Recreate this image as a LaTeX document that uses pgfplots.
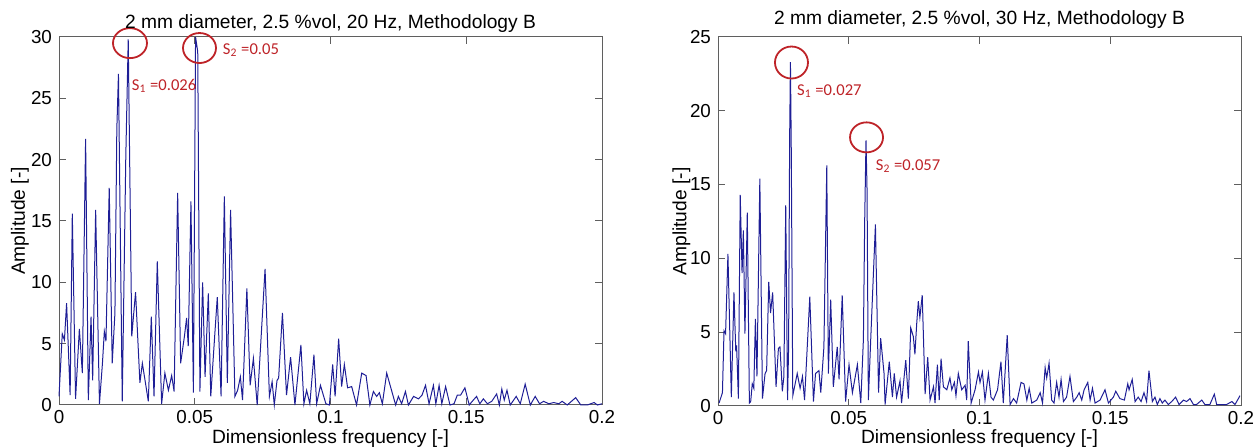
\documentclass[border=0pt]{standalone}
\usepackage{fontspec}
\setmainfont{Liberation Sans}
\newfontfamily\annfont{Carlito}
\usepackage{pgfplots}
\usepackage{pgfplotstable}
\pgfplotsset{compat=1.18}
\usetikzlibrary{shapes.geometric}
\definecolor{specblue}{RGB}{30,30,150}
\definecolor{annred}{RGB}{190,35,40}
\definecolor{axgray}{RGB}{95,95,95}

\pgfplotstableread{
x y
0.0000 0.7
0.0012 5.8
0.0020 5.3
0.0028 8.3
0.0041 0.8
0.0049 15.6
0.0061 0.5
0.0075 6.2
0.0086 2.6
0.0098 21.7
0.0108 0.4
0.0118 7.2
0.0124 2.0
0.0135 15.9
0.0149 0.1
0.0160 3.4
0.0167 6.0
0.0173 5.2
0.0185 17.7
0.0196 3.4
0.0206 7.5
0.0213 22.5
0.0219 27.0
0.0233 0.3
0.0246 20.2
0.0255 29.8
0.0268 5.6
0.0282 9.2
0.0298 1.8
0.0307 3.4
0.0317 2.0
0.0329 0.3
0.0340 7.2
0.0350 0.7
0.0362 11.7
0.0378 0.1
0.0390 2.6
0.0403 1.2
0.0415 2.4
0.0424 1.1
0.0437 17.3
0.0448 3.4
0.0462 5.6
0.0470 7.1
0.0476 4.8
0.0486 16.6
0.0495 1.0
0.0503 30.0
0.0511 28.8
0.0519 1.1
0.0529 10.0
0.0538 2.3
0.0550 9.1
0.0559 0.7
0.0571 4.8
0.0583 8.8
0.0597 0.7
0.0609 17.0
0.0620 1.8
0.0632 15.9
0.0648 0.7
0.0658 1.2
0.0668 2.3
0.0676 0.4
0.0692 9.5
0.0704 1.6
0.0716 3.8
0.0730 0.0
0.0759 11.1
0.0775 0.7
0.0785 1.9
0.0793 0.0
0.0803 2.0
0.0809 2.2
0.0823 7.5
0.0838 0.8
0.0853 3.9
0.0869 0.0
0.0891 4.9
0.0902 0.1
0.0912 1.2
0.0924 0.1
0.0939 4.1
0.0949 0.1
0.0963 1.6
0.0983 0.1
0.0996 0.0
0.1008 3.3
0.1017 0.7
0.1030 5.4
0.1041 1.5
0.1051 3.3
0.1063 1.4
0.1078 1.5
0.1096 0.0
0.1115 2.6
0.1131 2.4
0.1145 0.0
0.1158 1.1
0.1170 0.7
0.1180 1.0
0.1191 0.1
0.1207 2.6
0.1240 0.0
0.1250 0.7
0.1262 0.1
0.1276 1.1
0.1287 0.0
0.1306 0.7
0.1324 0.5
0.1337 0.8
0.1350 1.6
0.1363 0.1
0.1379 1.6
0.1388 0.1
0.1400 1.6
0.1410 0.1
0.1424 1.5
0.1440 0.0
0.1455 0.1
0.1467 0.8
0.1479 0.8
0.1495 1.4
0.1511 0.0
0.1526 0.4
0.1538 0.7
0.1550 0.1
0.1563 0.5
0.1578 0.1
0.1594 0.3
0.1612 0.9
0.1622 0.0
0.1631 1.3
0.1640 0.4
0.1650 1.2
0.1662 0.0
0.1684 0.7
0.1699 0.1
0.1717 1.7
0.1736 0.0
0.1754 0.7
0.1770 0.1
0.1785 0.3
0.1804 0.1
0.1822 0.2
0.1841 0.1
0.1853 0.3
0.1872 0.0
0.1903 0.6
0.1922 0.0
0.1946 0.0
0.1971 0.2
0.1983 0.0
0.2000 0.1
}\leftdata

\pgfplotstableread{
x y
0.0004 0.2
0.0017 0.9
0.0023 5.1
0.0029 4.9
0.0038 10.3
0.0051 0.6
0.0061 7.7
0.0068 3.7
0.0071 4.1
0.0078 0.5
0.0085 14.3
0.0092 9.0
0.0097 11.9
0.0103 4.9
0.0112 13.1
0.0120 0.2
0.0125 0.3
0.0131 1.5
0.0137 1.2
0.0143 5.9
0.0149 2.0
0.0160 15.4
0.0170 0.5
0.0180 2.2
0.0186 2.4
0.0194 8.4
0.0201 6.3
0.0209 7.7
0.0222 1.3
0.0231 3.9
0.0237 4.0
0.0246 1.0
0.0252 2.0
0.0259 13.6
0.0266 0.4
0.0270 4.0
0.0274 18.2
0.0277 23.3
0.0280 17.8
0.0286 0.7
0.0303 2.2
0.0314 1.2
0.0323 2.0
0.0331 0.4
0.0351 7.4
0.0365 0.3
0.0373 2.2
0.0386 2.4
0.0393 0.9
0.0405 4.0
0.0416 16.3
0.0422 2.2
0.0431 7.2
0.0441 1.3
0.0456 4.0
0.0463 1.8
0.0475 7.5
0.0488 0.3
0.0501 2.8
0.0514 0.9
0.0533 2.8
0.0546 0.2
0.0556 4.5
0.0561 12.6
0.0566 18.0
0.0570 14.6
0.0575 0.4
0.0584 4.5
0.0602 12.3
0.0614 0.9
0.0622 4.6
0.0635 2.2
0.0639 0.1
0.0655 3.0
0.0667 0.6
0.0674 2.2
0.0683 0.6
0.0696 1.7
0.0702 0.2
0.0718 3.1
0.0728 0.5
0.0737 5.3
0.0747 4.7
0.0753 3.5
0.0760 5.6
0.0766 7.1
0.0772 6.0
0.0781 7.5
0.0792 0.8
0.0802 3.3
0.0811 0.4
0.0824 1.3
0.0830 0.2
0.0839 2.8
0.0846 0.4
0.0853 3.2
0.0862 1.3
0.0875 1.1
0.0887 1.9
0.0894 1.1
0.0904 1.6
0.0910 0.7
0.0919 2.2
0.0932 1.1
0.0945 1.4
0.0951 0.4
0.0957 4.4
0.0968 0.2
0.0983 1.1
0.0996 2.3
0.1002 1.6
0.1011 2.3
0.1021 0.4
0.1034 2.2
0.1044 0.6
0.1053 0.4
0.1069 1.1
0.1082 3.0
0.1091 0.2
0.1106 4.8
0.1117 0.1
0.1130 0.5
0.1142 0.2
0.1159 1.6
0.1170 1.5
0.1181 0.4
0.1190 1.2
0.1200 0.2
0.1219 0.4
0.1232 0.9
0.1241 0.2
0.1251 2.6
0.1257 1.9
0.1266 2.9
0.1276 0.4
0.1285 0.2
0.1295 1.6
0.1304 0.6
0.1312 1.8
0.1321 0.3
0.1333 0.6
0.1346 2.0
0.1359 0.3
0.1372 0.6
0.1381 0.9
0.1391 0.4
0.1400 1.1
0.1414 1.6
0.1423 0.4
0.1432 1.2
0.1442 0.2
0.1461 0.4
0.1480 1.1
0.1493 0.2
0.1512 0.6
0.1521 1.0
0.1537 0.5
0.1554 0.4
0.1567 1.5
0.1572 1.1
0.1584 1.8
0.1595 0.3
0.1607 0.6
0.1618 0.3
0.1629 0.9
0.1639 0.3
0.1648 2.4
0.1661 0.3
0.1671 0.6
0.1680 0.1
0.1690 0.5
0.1699 0.2
0.1709 0.4
0.1722 0.1
0.1735 0.3
0.1750 0.6
0.1763 0.1
0.1780 0.4
0.1792 0.3
0.1805 0.5
0.1818 0.1
0.1830 0.1
0.1850 0.4
0.1862 0.1
0.1881 0.1
0.1898 0.8
0.1907 0.1
0.1926 0.1
0.1945 0.1
0.1965 0.3
0.1977 0.1
0.1990 0.5
0.1996 0.7
}\rightdata

\pgfplotsset{
  specax/.style={
    scale only axis,
    xmin=0, xmax=0.2, ymin=0,
    xtick={0,0.05,0.1,0.15,0.2},
    xticklabels={0,0.05,0.1,0.15,0.2},
    tick align=inside,
    major tick length=3.5pt,
    minor tick num=0,
    axis line style={axgray, line width=0.5pt},
    every tick/.style={axgray, line width=0.5pt},
    tick label style={font=\fontsize{9.4}{10}\selectfont, text=black},
    xticklabel style={inner sep=1pt, yshift=-1.5pt},
    label style={font=\fontsize{9.6}{11}\selectfont},
    every axis title/.style={font=\fontsize{9.6}{11}\selectfont, at={(axis description cs:0.5,1)}, anchor=base},
    clip=false,
    xlabel={Dimensionless frequency [-]},
    ylabel={Amplitude [-]},
  },
}
\tikzset{
  circ/.style={draw=annred, line width=0.9pt, ellipse, inner sep=0pt},
  ann/.style={font=\annfont\fontsize{8.3}{10}\selectfont, text=annred, inner sep=0pt},
}

\begin{document}
\begin{tikzpicture}
\useasboundingbox (0,0) rectangle (630pt,224pt);
\begin{axis}[specax,
  at={(29.5pt,21.5pt)}, anchor=south west,
  width=271.5pt, height=184pt,
  ymax=30, ytick={0,5,10,15,20,25,30},
  yticklabels={0,5,10,15,20,25,30},
  title={2 mm diameter, 2.5 \%vol, 20 Hz, Methodology B},
  title style={yshift=4pt},
  xlabel style={at={(axis description cs:0.5,0)}, anchor=base, yshift=-19.2pt, inner sep=0pt},
  ylabel style={at={(axis description cs:-0.055,0.5)}, anchor=south, inner sep=0pt},
]
\addplot[specblue, line width=0.5pt, mark=none] table[x=x,y=y] {\leftdata};
\node[circ, minimum width=17pt, minimum height=15pt] at (axis cs:0.02615,29.5) {};
\node[circ, minimum width=16.5pt, minimum height=15pt] at (axis cs:0.05175,29.1) {};
\node[ann] at (axis cs:0.0387,26.0) {S\textsubscript{1} =0.026};
\node[ann] at (axis cs:0.0707,28.9) {S\textsubscript{2} =0.05};
\end{axis}
\begin{axis}[specax,
  at={(359pt,21pt)}, anchor=south west,
  width=261.5pt, height=184.5pt,
  ymax=25, ytick={0,5,10,15,20,25},
  yticklabels={0,5,10,15,20,25},
  title={2 mm diameter, 2.5 \%vol, 30 Hz, Methodology B},
  title style={yshift=6pt},
  xlabel style={at={(axis description cs:0.5,0)}, anchor=base, yshift=-18.7pt, inner sep=0pt},
  ylabel style={at={(axis description cs:-0.052,0.5)}, anchor=south, inner sep=0pt},
]
\addplot[specblue, line width=0.5pt, mark=none] table[x=x,y=y] {\rightdata};
\node[circ, minimum width=16.5pt, minimum height=16pt] at (axis cs:0.0281,23.27) {};
\node[circ, minimum width=16.5pt, minimum height=15pt] at (axis cs:0.0568,18.2) {};
\node[ann] at (axis cs:0.0426,21.34) {S\textsubscript{1} =0.027};
\node[ann] at (axis cs:0.0727,16.26) {S\textsubscript{2} =0.057};
\end{axis}
\end{tikzpicture}
\end{document}
